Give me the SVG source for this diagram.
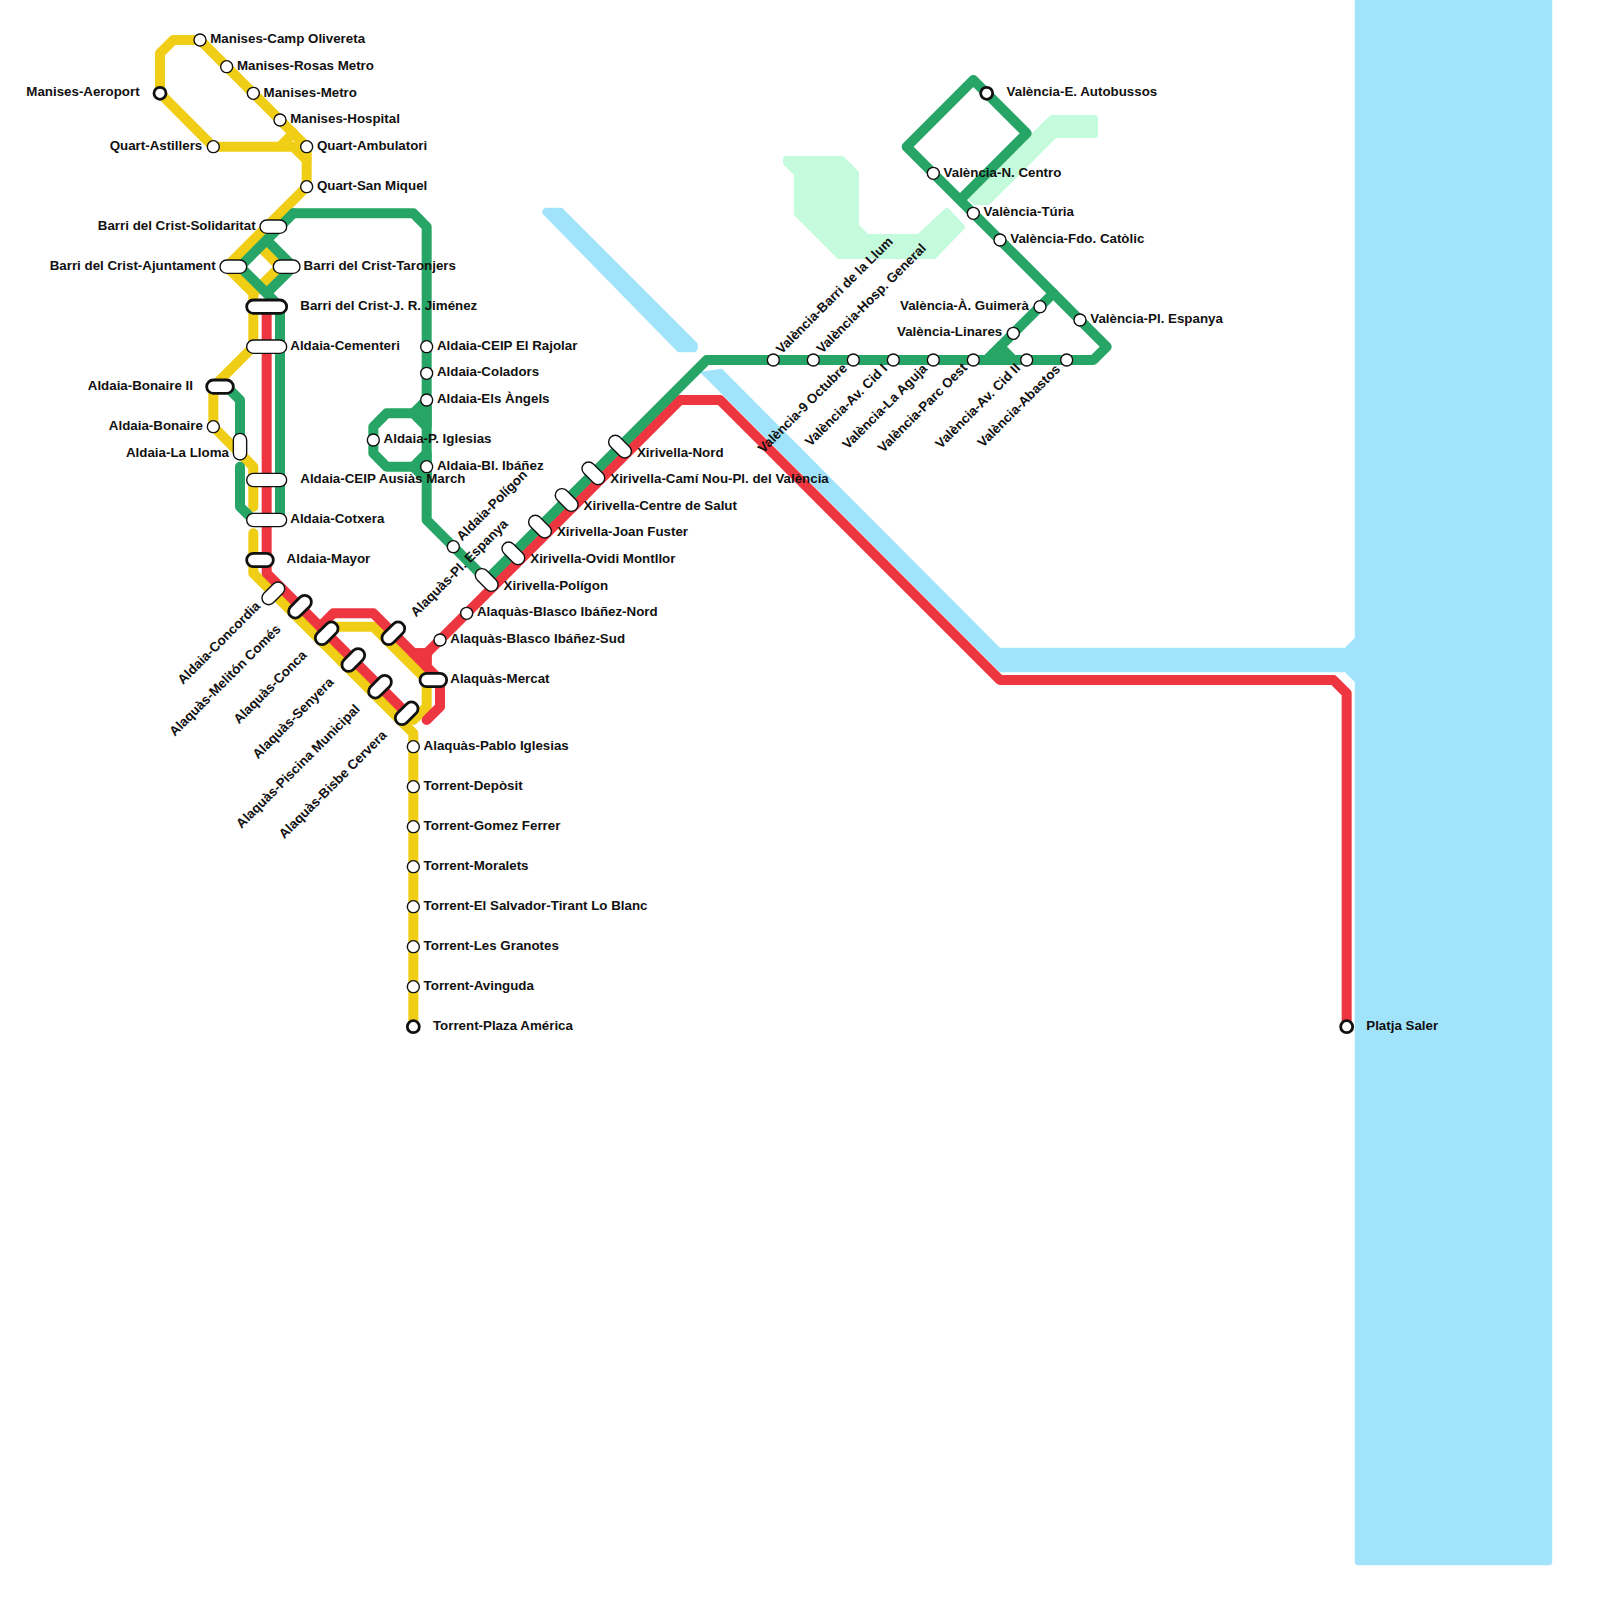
<svg xmlns="http://www.w3.org/2000/svg" width="1600" height="1600" viewBox="0 0 1600 1600">
<style>
.bg{fill:#a0e3fa;stroke:#a0e3fa;stroke-width:.4;stroke-linejoin:round}
.park{fill:#c5fbdd;stroke:#c5fbdd;stroke-width:6;stroke-linejoin:round}
.l{fill:none;stroke-width:10;stroke-linecap:round;stroke-linejoin:round}
.y{stroke:#f0ce15}.r{stroke:#ee3640}.g{stroke:#27a567}
.fr{fill:#ee3640}.fg{fill:#27a567}
circle,rect.p{fill:#fff;stroke:#111;stroke-width:1.4}
.t{stroke-width:2.8 !important}
text{font-family:"Liberation Sans",Arial,sans-serif;font-size:13.33px;font-weight:700;fill:#111}
.e{text-anchor:end}
</style>
<rect x="0" y="0" width="1600" height="1600" fill="#fff"/>
<g id="water">
<path class="bg" d="M1355 -2H1552V1562Q1552 1565 1549 1565H1358Q1355 1565 1355 1562V682L1345 672H1000L700 372L722 369L1000 648H1345L1355 638Z"/>
<path class="bg" d="M545 208H562L697 343Q699 350 695 352H678L543 214Q541 210 545 208Z"/>
</g>
<g id="parks">
<path class="park" d="M786 159H842L856 173V226L867 237H919L947 211L962 227L934 256H839L797 214V174L786 163Z"/>
<path class="park" d="M1052 118H1095V135H1055L988 202H975L971 198Z"/>
</g>
<g id="connectors">
<path class="l y" d="M160 93.33V53.33L173.33 40H200L306.67 146.67V186.67L226.67 266.67L253.33 293.33V346.67L213.33 386.67V426.67L253.33 466.67V506.67"/>
<path class="l y" d="M160 93.33L213.33 146.67H293.33L306.67 160"/>
<path class="l y" d="M280 146.67L293.33 133.33"/>
<path class="l y" d="M253.33 240L280 266.67L253.33 293.33"/>
<path class="l y" d="M253.33 533.33V573.33L413.33 733.33V1026.67"/>
<path class="l y" d="M320 640L333.33 626.67H373.33L426.67 680V706.67L413.33 720"/>
<path class="l r" d="M266.67 306.67V573.33L406.67 713.33"/>
<path class="l r" d="M320 626.67L333.33 613.33H373.33L413.33 653.33H426.67V666.67L440 680V706.67L426.67 720"/>
<path class="l r fr" d="M413.33 653.33H426.67V666.67Z"/>
<path class="l r" d="M426.67 653.33L680 400H720L1000 680H1333.33L1346.67 693.33V1026.67"/>
<path class="l g" d="M293.33 213.33H413.33L426.67 226.67V520L486.67 580L706.67 360H1093.33L1106.67 346.67L906.67 146.67L973.33 80L1026.67 133.33L960 200"/>
<path class="l g" d="M293.33 213.33L240 266.67L280 306.67V520"/>
<path class="l g" d="M266.67 240L293.33 266.67L266.67 293.33"/>
<path class="l g" d="M413.33 413.33H386.67L373.33 426.67V453.33L386.67 466.67H413.33"/>
<path class="l g fg" d="M413.33 413.33L426.67 400V426.67Z"/>
<path class="l g fg" d="M413.33 466.67L426.67 453.33V480Z"/>
<path class="l g" d="M226.67 386.67L240 400V446.67"/>
<path class="l g" d="M240 466.67V506.67L253.33 520"/>
<path class="l g" d="M1053.33 293.33L986.67 360"/>
<path class="l g fg" d="M986.67 360L1000 346.67L1013.33 360Z"/>
</g>
<g id="stations">
<circle cx="200" cy="40" r="6"/><circle cx="226.67" cy="66.67" r="6"/><circle cx="253.33" cy="93.33" r="6"/><circle cx="280" cy="120" r="6"/>
<circle cx="306.67" cy="146.67" r="6"/><circle cx="306.67" cy="186.67" r="6"/><circle cx="213.33" cy="146.67" r="6"/><circle class="t" cx="160" cy="93.33" r="6"/>
<circle cx="213.33" cy="426.67" r="6"/>
<circle cx="426.67" cy="346.67" r="6"/><circle cx="426.67" cy="373.33" r="6"/><circle cx="426.67" cy="400" r="6"/><circle cx="426.67" cy="466.67" r="6"/><circle cx="373.33" cy="440" r="6"/><circle cx="453.33" cy="546.67" r="6"/>
<circle cx="466.67" cy="613.33" r="6"/><circle cx="440" cy="640" r="6"/>
<circle cx="413.33" cy="746.67" r="6"/><circle cx="413.33" cy="786.67" r="6"/><circle cx="413.33" cy="826.67" r="6"/><circle cx="413.33" cy="866.67" r="6"/><circle cx="413.33" cy="906.67" r="6"/><circle cx="413.33" cy="946.67" r="6"/><circle cx="413.33" cy="986.67" r="6"/><circle class="t" cx="413.33" cy="1026.67" r="6"/>
<circle class="t" cx="1346.67" cy="1026.67" r="6"/>
<circle cx="773.33" cy="360" r="6"/><circle cx="813.33" cy="360" r="6"/><circle cx="853.33" cy="360" r="6"/><circle cx="893.33" cy="360" r="6"/><circle cx="933.33" cy="360" r="6"/><circle cx="973.33" cy="360" r="6"/><circle cx="1026.67" cy="360" r="6"/><circle cx="1066.67" cy="360" r="6"/>
<circle class="t" cx="986.67" cy="93.33" r="6"/><circle cx="933.33" cy="173.33" r="6"/><circle cx="973.33" cy="213.33" r="6"/><circle cx="1000" cy="240" r="6"/><circle cx="1040" cy="306.67" r="6"/><circle cx="1013.33" cy="333.33" r="6"/><circle cx="1080" cy="320" r="6"/>
<rect class="p" x="260" y="220" width="26.67" height="13.33" rx="6.67"/>
<rect class="p" x="220" y="260" width="26.67" height="13.33" rx="6.67"/>
<rect class="p" x="273.33" y="260" width="26.67" height="13.33" rx="6.67"/>
<rect class="p t" x="246.67" y="300" width="40" height="13.33" rx="6.67"/>
<rect class="p" x="246.67" y="340" width="40" height="13.33" rx="6.67"/>
<rect class="p t" x="206.67" y="380" width="26.67" height="13.33" rx="6.67"/>
<rect class="p" x="233.33" y="433.33" width="13.33" height="26.67" rx="6.67"/>
<rect class="p" x="246.67" y="473.33" width="40" height="13.33" rx="6.67"/>
<rect class="p" x="246.67" y="513.33" width="40" height="13.33" rx="6.67"/>
<rect class="p t" x="246.67" y="553.33" width="26.67" height="13.33" rx="6.67"/>
<rect class="p t" x="420" y="673.33" width="26.67" height="13.33" rx="6.67"/>
<g id="diag-ne">
<rect class="p" x="-13.33" y="-6.67" width="26.67" height="13.33" rx="6.67" transform="translate(273.33 593.33) rotate(-45)"/>
<rect class="p t" x="-13.33" y="-6.67" width="26.67" height="13.33" rx="6.67" transform="translate(300 606.67) rotate(-45)"/>
<rect class="p t" x="-13.33" y="-6.67" width="26.67" height="13.33" rx="6.67" transform="translate(326.67 633.33) rotate(-45)"/>
<rect class="p t" x="-13.33" y="-6.67" width="26.67" height="13.33" rx="6.67" transform="translate(353.33 660) rotate(-45)"/>
<rect class="p t" x="-13.33" y="-6.67" width="26.67" height="13.33" rx="6.67" transform="translate(380 686.67) rotate(-45)"/>
<rect class="p t" x="-13.33" y="-6.67" width="26.67" height="13.33" rx="6.67" transform="translate(406.67 713.33) rotate(-45)"/>
<rect class="p t" x="-13.33" y="-6.67" width="26.67" height="13.33" rx="6.67" transform="translate(393.33 633.33) rotate(-45)"/>
</g>
<g id="diag-se">
<rect class="p" x="-13.33" y="-6.67" width="26.67" height="13.33" rx="6.67" transform="translate(486.67 580) rotate(45)"/>
<rect class="p" x="-13.33" y="-6.67" width="26.67" height="13.33" rx="6.67" transform="translate(513.33 553.33) rotate(45)"/>
<rect class="p" x="-13.33" y="-6.67" width="26.67" height="13.33" rx="6.67" transform="translate(540 526.67) rotate(45)"/>
<rect class="p" x="-13.33" y="-6.67" width="26.67" height="13.33" rx="6.67" transform="translate(566.67 500) rotate(45)"/>
<rect class="p" x="-13.33" y="-6.67" width="26.67" height="13.33" rx="6.67" transform="translate(593.33 473.33) rotate(45)"/>
<rect class="p" x="-13.33" y="-6.67" width="26.67" height="13.33" rx="6.67" transform="translate(620 446.67) rotate(45)"/>
</g>
</g>
<g id="labels">
<g transform="translate(-0.4 -0.8)">
<text x="210.67" y="44">Manises-Camp Olivereta</text>
<text x="237.33" y="70.67">Manises-Rosas Metro</text>
<text x="264" y="97.33">Manises-Metro</text>
<text x="290.67" y="124">Manises-Hospital</text>
<text x="317.33" y="150.67">Quart-Ambulatori</text>
<text x="317.33" y="190.67">Quart-San Miquel</text>
<text class="e" x="140" y="96.5">Manises-Aeroport</text>
<text class="e" x="202.67" y="150.67">Quart-Astillers</text>
<text class="e" x="256" y="230.67">Barri del Crist-Solidaritat</text>
<text class="e" x="216" y="270.67">Barri del Crist-Ajuntament</text>
<text x="304" y="270.67">Barri del Crist-Taronjers</text>
<text x="300.67" y="310.67">Barri del Crist-J. R. Jiménez</text>
<text x="290.67" y="350.67">Aldaia-Cementeri</text>
<text class="e" x="193.33" y="390.67">Aldaia-Bonaire II</text>
<text class="e" x="203.33" y="430.67">Aldaia-Bonaire</text>
<text class="e" x="229.33" y="457.33">Aldaia-La Lloma</text>
<text x="300.67" y="484">Aldaia-CEIP Ausiàs March</text>
<text x="290.67" y="524">Aldaia-Cotxera</text>
<text x="287" y="564">Aldaia-Mayor</text>
<text x="437.33" y="350.67">Aldaia-CEIP El Rajolar</text>
<text x="437.33" y="376.5">Aldaia-Coladors</text>
<text x="437.33" y="404">Aldaia-Els Àngels</text>
<text x="384" y="444">Aldaia-P. Iglesias</text>
<text x="437.33" y="470.67">Aldaia-Bl. Ibáñez</text>
<text x="477.33" y="616.5">Alaquàs-Blasco Ibáñez-Nord</text>
<text x="450.67" y="644">Alaquàs-Blasco Ibáñez-Sud</text>
<text x="450.67" y="684">Alaquàs-Mercat</text>
<text x="424" y="750.67">Alaquàs-Pablo Iglesias</text>
<text x="424" y="790.67">Torrent-Depòsit</text>
<text x="424" y="830.67">Torrent-Gomez Ferrer</text>
<text x="424" y="870.67">Torrent-Moralets</text>
<text x="424" y="910.67">Torrent-El Salvador-Tirant Lo Blanc</text>
<text x="424" y="950.67">Torrent-Les Granotes</text>
<text x="424" y="990.67">Torrent-Avinguda</text>
<text x="433.33" y="1030.67">Torrent-Plaza América</text>
<text x="1366.67" y="1030.67">Platja Saler</text>
<text x="504" y="590.5">Xirivella-Polígon</text>
<text x="530.67" y="563.33">Xirivella-Ovidi Montllor</text>
<text x="557.33" y="536.67">Xirivella-Joan Fuster</text>
<text x="584" y="510.5">Xirivella-Centre de Salut</text>
<text x="610.67" y="483.33">Xirivella-Camí Nou-Pl. del València</text>
<text x="637.33" y="457.5">Xirivella-Nord</text>
<text x="1007" y="96.5">València-E. Autobussos</text>
<text x="944" y="177.33">València-N. Centro</text>
<text x="984" y="216.5">València-Túria</text>
<text x="1010.67" y="244">València-Fdo. Catòlic</text>
<text class="e" x="1029.33" y="310.67">València-À. Guimerà</text>
<text class="e" x="1002.67" y="336.5">València-Linares</text>
<text x="1090.67" y="324">València-Pl. Espanya</text>
</g>
<g id="rot-up">
<text transform="translate(462 541.5) rotate(-45)">Aldaia-Polígon</text>
<text transform="translate(416 617.5) rotate(-45)">Alaquàs-Pl. Espanya</text>
<text transform="translate(781.5 354.5) rotate(-45)">València-Barri de la Llum</text>
<text transform="translate(822 354) rotate(-45)">València-Hosp. General</text>
</g>
<g id="rot-down">
<text class="e" transform="translate(261 607) rotate(-45)">Aldaia-Concordia</text>
<text class="e" transform="translate(281.5 630) rotate(-45)">Alaquàs-Melitón Comés</text>
<text class="e" transform="translate(307.5 656) rotate(-45)">Alaquàs-Conca</text>
<text class="e" transform="translate(334.5 683) rotate(-45)">Alaquàs-Senyera</text>
<text class="e" transform="translate(360.5 710) rotate(-45)">Alaquàs-Piscina Municipal</text>
<text class="e" transform="translate(387.5 736) rotate(-45)">Alaquàs-Bisbe Cervera</text>
<text class="e" transform="translate(848 369) rotate(-45)">València-9 Octubre</text>
<text class="e" transform="translate(888 369.5) rotate(-45)">València-Av. Cid I</text>
<text class="e" transform="translate(928 369.5) rotate(-45)">València-La Aguja</text>
<text class="e" transform="translate(968 368.5) rotate(-45)">València-Parc Oest</text>
<text class="e" transform="translate(1021 369) rotate(-45)">València-Av. Cid II</text>
<text class="e" transform="translate(1061 370) rotate(-45)">València-Abastos</text>
</g>
</g>
</svg>
